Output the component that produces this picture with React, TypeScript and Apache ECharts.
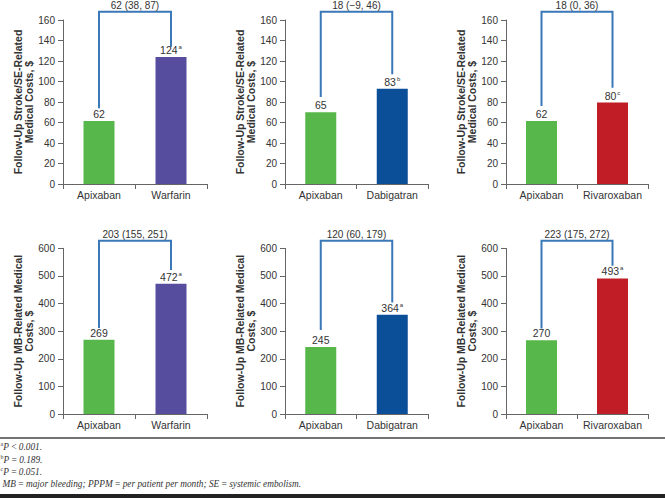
import React, { useEffect, useRef } from "react";
import * as echarts from "echarts";

// ---- data ----
const comparators = ["Warfarin", "Dabigatran", "Rivaroxaban"];
const baseDrug = "Apixaban";

// Top row: follow-up stroke/SE-related medical costs
const strokeApixaban = [61.5, 70, 61.5];
const strokeComparator = [124, 93, 79.5];
const strokeApixabanLabels = ["62", "65", "62"];
const strokeComparatorLabels = ["124", "83", "80"];
const strokeSup = ["a", "b", "c"];
const strokeDiff = ["62 (38, 87)", "18 (\u22129, 46)", "18 (0, 36)"];
const strokeBracketLeft = [74, 85, 76];
const strokeBracketRight = [134, 107, 94];
const strokeBracketTop = 168;

// Bottom row: follow-up MB-related medical costs
const mbApixaban = [269, 243, 267];
const mbComparator = [472, 359, 491];
const mbApixabanLabels = ["269", "245", "270"];
const mbComparatorLabels = ["472", "364", "493"];
const mbSup = ["a", "a", "a"];
const mbDiff = ["203 (155, 251)", "120 (60, 179)", "223 (175, 272)"];
const mbBracketLeft = [311, 304, 310];
const mbBracketRight = [521, 404, 537];
const mbBracketTop = 627;

const strokeTicks = { max: 160, interval: 20 };
const mbTicks = { max: 600, interval: 100 };

const footnotes = [
  ["a", "P\u2009<\u20090.001."],
  ["b", "P\u2009=\u20090.189."],
  ["c", "P\u2009=\u20090.051."],
  ["", "MB\u2009=\u2009major bleeding; PPPM\u2009=\u2009per patient per month; SE\u2009=\u2009systemic embolism."],
];

// ---- styles ----
const FONT = "'Liberation Sans', Arial, sans-serif";
const SERIF = "'Liberation Serif', serif";
const TEXT = "#333";
const AXIS = "#666";
const GREEN = "#58b74a";
const compColors = ["#574d9f", "#0c4f99", "#c11d27"];
const BRACKET = "#3a78b8";

const colLeft = [63, 285, 506];
const colWidth = [144, 143, 142];
const rowTop = [20, 248.3];
const rowHeight = [164, 165.7];

export default function App() {
  const ref = useRef<HTMLDivElement>(null);

  useEffect(() => {
    if (!ref.current) return;
    const chart = echarts.init(ref.current, undefined, { renderer: "svg" });

    const grids: any[] = [];
    const xAxes: any[] = [];
    const yAxes: any[] = [];
    const series: any[] = [];

    const rows = [
      {
        a: strokeApixaban, c: strokeComparator, al: strokeApixabanLabels, cl: strokeComparatorLabels,
        sup: strokeSup, diff: strokeDiff, bl: strokeBracketLeft, br: strokeBracketRight, bt: strokeBracketTop,
        ticks: strokeTicks, name: "Follow-Up Stroke/SE-Related\nMedical Costs, $",
      },
      {
        a: mbApixaban, c: mbComparator, al: mbApixabanLabels, cl: mbComparatorLabels,
        sup: mbSup, diff: mbDiff, bl: mbBracketLeft, br: mbBracketRight, bt: mbBracketTop,
        ticks: mbTicks, name: "Follow-Up MB-Related Medical\nCosts, $",
      },
    ];

    const richLabel = {
      v: { fontSize: 10.5, color: TEXT, fontFamily: FONT, lineHeight: 12 },
      s: { fontSize: 6, color: TEXT, fontFamily: FONT, verticalAlign: "top", lineHeight: 6, padding: [0, 0, 0, 1] },
    };

    rows.forEach((row, r) => {
      comparators.forEach((comp, c) => {
        const idx = r * 3 + c;
        grids.push({ left: colLeft[c], width: colWidth[c], top: rowTop[r], height: rowHeight[r] });
        xAxes.push({
          type: "category",
          gridIndex: idx,
          data: [baseDrug, comp],
          axisLine: { lineStyle: { color: AXIS, width: 1 } },
          axisTick: { show: true, length: 5, lineStyle: { color: AXIS } },
          axisLabel: { color: TEXT, fontSize: 10.5, fontFamily: FONT, margin: 5, interval: 0 },
        });
        yAxes.push({
          type: "value",
          gridIndex: idx,
          min: 0,
          max: row.ticks.max,
          interval: row.ticks.interval,
          axisLine: { show: true, lineStyle: { color: AXIS, width: 1 } },
          axisTick: { show: true, length: 5, lineStyle: { color: AXIS } },
          axisLabel: { color: TEXT, fontSize: 10, fontFamily: FONT, margin: 8 },
          splitLine: { show: false },
          name: row.name,
          nameLocation: "middle",
          nameRotate: 90,
          nameGap: 28,
          nameTextStyle: { color: TEXT, fontSize: 10.5, fontWeight: "bold", fontFamily: FONT, lineHeight: 11 },
        });
        series.push({
          type: "bar",
          xAxisIndex: idx,
          yAxisIndex: idx,
          barWidth: 31,
          data: [
            {
              value: row.a[c],
              itemStyle: { color: GREEN },
              label: { formatter: "{v|" + row.al[c] + "}" },
            },
            {
              value: row.c[c],
              itemStyle: { color: compColors[c] },
              label: { formatter: "{v|" + row.cl[c] + "}{s|" + row.sup[c] + "}" },
            },
          ],
          label: { show: true, position: "top", distance: 1, rich: richLabel },
        });
        series.push({
          type: "custom",
          xAxisIndex: idx,
          yAxisIndex: idx,
          clip: false,
          data: [[row.bl[c], row.br[c], row.bt]],
          renderItem: (params: any, api: any) => {
            const l = api.value(0);
            const rr = api.value(1);
            const t = api.value(2);
            const p0 = api.coord([0, l]);
            const p1 = api.coord([0, t]);
            const p2 = api.coord([1, t]);
            const p3 = api.coord([1, rr]);
            return {
              type: "group",
              children: [
                {
                  type: "polyline",
                  shape: { points: [p0, p1, p2, p3] },
                  style: { stroke: BRACKET, lineWidth: 2, fill: null },
                },
                {
                  type: "text",
                  x: (p1[0] + p2[0]) / 2,
                  y: p1[1] - 1.5,
                  style: {
                    text: row.diff[c],
                    align: "center",
                    verticalAlign: "bottom",
                    fontSize: 10,
                    fontFamily: FONT,
                    fill: TEXT,
                  },
                },
              ],
            };
          },
        });
      });
    });

    const graphic: any[] = [
      { type: "line", shape: { x1: 0, y1: 438, x2: 665, y2: 438 }, style: { stroke: "#444", lineWidth: 1.5 } },
      { type: "rect", shape: { x: 0, y: 494, width: 665, height: 4 }, style: { fill: "#222" } },
    ];
    const footY = [447, 459.5, 471.5, 484];
    footnotes.forEach(([sup, txt], i) => {
      graphic.push({
        type: "text",
        x: sup ? 0.5 : 2.5,
        y: footY[i],
        style: {
          text: (sup ? "{s|" + sup + "}" : "") + "{t|" + txt + "}",
          verticalAlign: "middle",
          rich: {
            s: { fontSize: 6, fontFamily: SERIF, fill: "#333", verticalAlign: "top", lineHeight: 7 },
            t: { fontSize: 9.3, fontStyle: "italic", fontFamily: SERIF, fill: "#333", lineHeight: 12 },
          },
        },
      });
    });

    chart.setOption({
      animation: false,
      backgroundColor: "#fff",
      grid: grids,
      xAxis: xAxes,
      yAxis: yAxes,
      series,
      graphic,
    });

    return () => chart.dispose();
  }, []);

  return (
    <div
      ref={ref}
      style={{ position: "absolute", left: 0, top: 0, width: 665, height: 498, background: "#fff" }}
    />
  );
}
